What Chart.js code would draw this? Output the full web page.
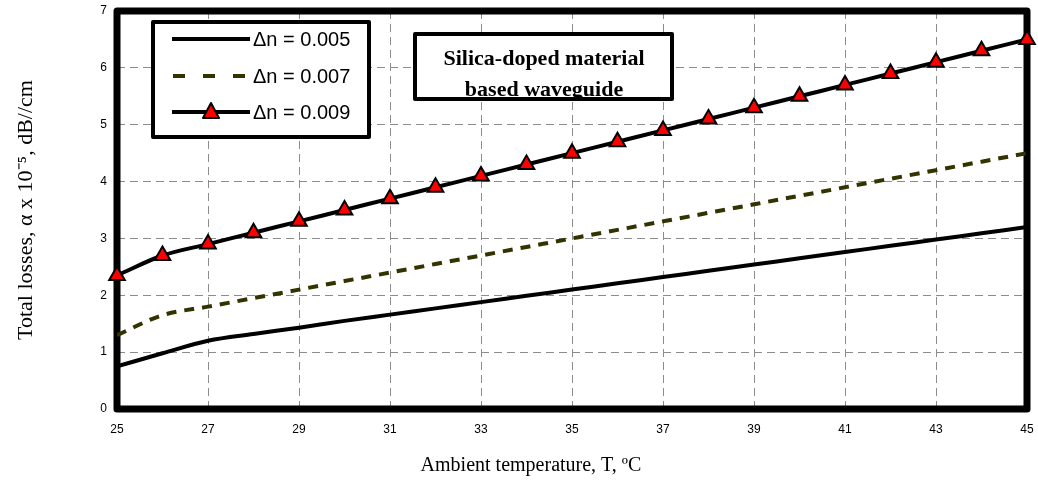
<!DOCTYPE html>
<html lang="en">
<head>
  <meta charset="utf-8" />
  <title>Total losses vs ambient temperature</title>
  <script src="https://cdn.jsdelivr.net/npm/chart.js"></script>
  <style>
    html, body { margin: 0; padding: 0; background: #fff; }
    #wrap { width: 1038px; height: 484px; }
  </style>
</head>
<body>
  <div id="wrap"><canvas id="lossChart" width="1038" height="484"></canvas></div>

  <script>
    // temperatures (ºC) and total losses (x10^-5 dB/cm)
    const temps    = [25, 26, 27, 28, 29, 30, 31, 32, 33, 34, 35, 36, 37, 38, 39, 40, 41, 42, 43, 44, 45];
    const loss005  = [0.75, 0.98, 1.2, 1.32, 1.43, 1.55, 1.66, 1.77, 1.88, 1.99, 2.1, 2.21, 2.32, 2.43, 2.54, 2.65, 2.76, 2.87, 2.98, 3.09, 3.2];
    const loss007  = [1.3, 1.65, 1.8, 1.95, 2.1, 2.25, 2.4, 2.55, 2.7, 2.85, 3.0, 3.15, 3.3, 3.45, 3.6, 3.75, 3.9, 4.05, 4.2, 4.35, 4.5];
    const loss009  = [2.35, 2.7, 2.9, 3.1, 3.3, 3.5, 3.7, 3.9, 4.1, 4.3, 4.5, 4.7, 4.9, 5.1, 5.3, 5.5, 5.7, 5.9, 6.1, 6.3, 6.5];
    const seriesNames = ['\u0394n = 0.005', '\u0394n = 0.007', '\u0394n = 0.009'];
    const noteLines   = ['Silica-doped material', 'based waveguide'];
    const xTitle = 'Ambient temperature, T, \u00baC';
    const yTitle = 'Total losses, \u03b1 x 10\u207b\u2075, dB//cm';

    const pts = arr => arr.map((v, i) => ({ x: temps[i], y: v }));

    // thick frame round the plot area, under the data
    const framePlugin = {
      id: 'frame',
      beforeDatasetsDraw(chart) {
        const a = chart.chartArea, c = chart.ctx;
        c.save();
        c.lineWidth = 7;
        c.lineJoin = 'round';
        c.strokeStyle = '#000';
        c.strokeRect(a.left, a.top, a.right - a.left, a.bottom - a.top);
        c.restore();
      }
    };

    // legend box, note box and x axis title
    const boxesPlugin = {
      id: 'boxes',
      afterDatasetsDraw(chart) {
        const c = chart.ctx;
        c.save();

        // legend
        c.fillStyle = '#fff';
        c.fillRect(153, 22, 216, 115);
        c.lineWidth = 4;
        c.strokeStyle = '#000';
        c.lineJoin = 'round';
        c.strokeRect(153, 22, 216, 115);

        const rows = [39, 76, 112];
        c.lineCap = 'butt';
        // 0.005 solid
        c.lineWidth = 4;
        c.strokeStyle = '#000';
        c.beginPath(); c.moveTo(172, rows[0]); c.lineTo(250, rows[0]); c.stroke();
        // 0.007 dashed
        c.strokeStyle = '#333300';
        c.setLineDash([12, 18]);
        c.beginPath(); c.moveTo(173, rows[1]); c.lineTo(250, rows[1]); c.stroke();
        c.setLineDash([]);
        // 0.009 with triangle
        c.strokeStyle = '#000';
        c.beginPath(); c.moveTo(172, rows[2]); c.lineTo(250, rows[2]); c.stroke();
        c.beginPath();
        c.moveTo(211, rows[2] - 9);
        c.lineTo(219, rows[2] + 6);
        c.lineTo(203, rows[2] + 6);
        c.closePath();
        c.fillStyle = 'red';
        c.fill();
        c.lineWidth = 2;
        c.stroke();

        c.fillStyle = '#000';
        c.font = '20px "Liberation Sans", Arial, sans-serif';
        c.textBaseline = 'middle';
        c.textAlign = 'left';
        seriesNames.forEach((n, i) => c.fillText(n, 253, rows[i] + 1));

        // note box, second line cut off by its frame
        c.fillStyle = '#fff';
        c.fillRect(415, 34, 257, 65);
        c.save();
        c.beginPath();
        c.rect(415, 34, 257, 63);
        c.clip();
        c.fillStyle = '#000';
        c.font = 'bold 22px "Liberation Serif", "Times New Roman", serif';
        c.textAlign = 'center';
        c.textBaseline = 'alphabetic';
        c.fillText(noteLines[0], 544, 65);
        c.fillText(noteLines[1], 544, 96);
        c.restore();
        c.lineWidth = 4;
        c.strokeStyle = '#000';
        c.strokeRect(415, 34, 257, 65);

        // x axis title
        c.fillStyle = '#000';
        c.font = '20px "Liberation Serif", "Times New Roman", serif';
        c.textAlign = 'center';
        c.textBaseline = 'middle';
        c.fillText(xTitle, 531, 466);

        c.restore();
      }
    };

    const gridDash = { color: '#8c8c8c', lineWidth: 1, drawTicks: false };

    new Chart(document.getElementById('lossChart').getContext('2d'), {
      type: 'line',
      data: {
        datasets: [
          {
            label: seriesNames[2],
            data: pts(loss009),
            borderColor: '#000',
            borderWidth: 4,
            pointStyle: 'triangle',
            pointRadius: 9,
            pointBackgroundColor: 'red',
            pointBorderColor: '#000',
            pointBorderWidth: 2,
            cubicInterpolationMode: 'monotone',
            clip: false
          },
          {
            label: seriesNames[1],
            data: pts(loss007),
            borderColor: '#333300',
            borderWidth: 4,
            borderDash: [10, 8],
            pointRadius: 0,
            cubicInterpolationMode: 'monotone'
          },
          {
            label: seriesNames[0],
            data: pts(loss005),
            borderColor: '#000',
            borderWidth: 4,
            pointRadius: 0,
            cubicInterpolationMode: 'monotone'
          }
        ]
      },
      options: {
        responsive: false,
        animation: false,
        layout: { padding: { left: 13, right: 9, top: 10, bottom: 0 } },
        plugins: { legend: { display: false }, tooltip: { enabled: false } },
        scales: {
          x: {
            type: 'linear',
            min: 25, max: 45,
            grid: gridDash,
            border: { display: false, dash: [8, 5] },
            ticks: {
              stepSize: 2, padding: 13, color: '#000',
              font: { family: '"Liberation Sans", Arial, sans-serif', size: 12 }
            },
            afterFit(s) { s.height = 75; s.paddingLeft = 0; s.paddingRight = 0; }
          },
          y: {
            min: 0, max: 7,
            grid: gridDash,
            border: { display: false, dash: [8, 5] },
            ticks: {
              stepSize: 1, padding: 10, color: '#000',
              font: { family: '"Liberation Sans", Arial, sans-serif', size: 12 }
            },
            title: {
              display: true, text: yTitle, color: '#000',
              padding: { top: 0, bottom: 0 },
              font: { family: '"Liberation Serif", "Times New Roman", serif', size: 22 }
            },
            afterFit(s) { s.width = 104; s.paddingTop = 0; s.paddingBottom = 0; }
          }
        }
      },
      plugins: [framePlugin, boxesPlugin]
    });
  </script>
</body>
</html>
